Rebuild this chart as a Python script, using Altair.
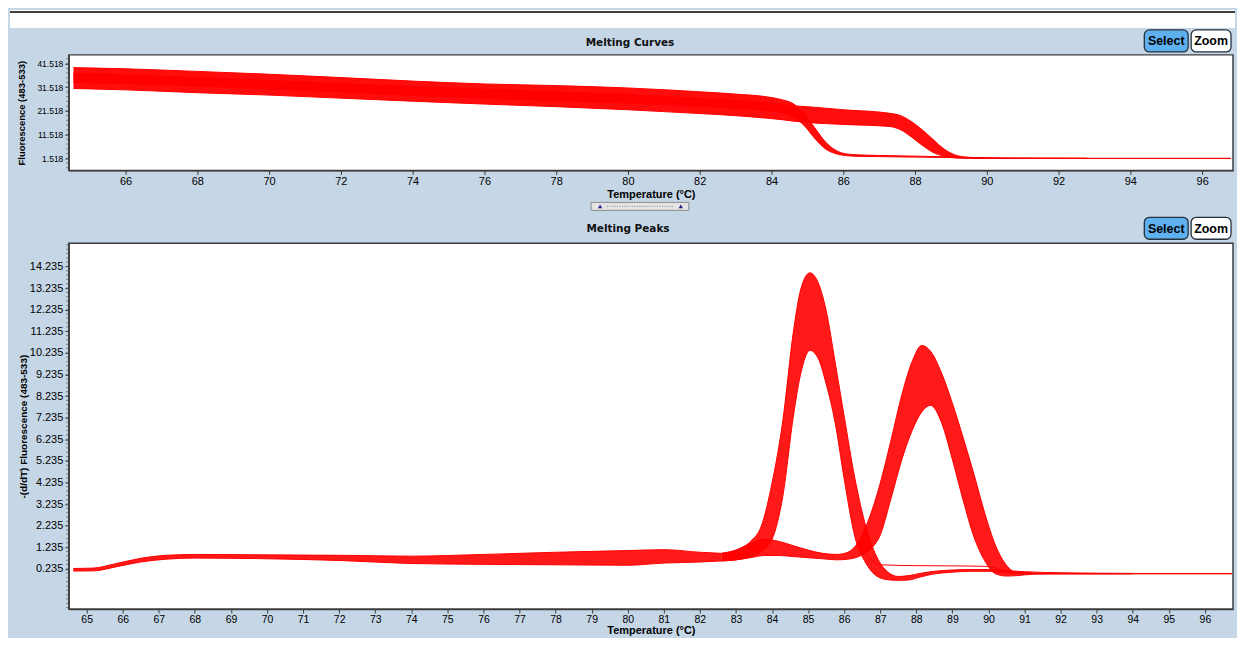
import altair as alt
import pandas as pd
import numpy as np

# ---------------- Melting Curves (top panel) : envelopes of two sample groups ----------------
curve_a_t  = [64.55, 66, 68, 70, 72, 74, 76, 78, 80, 82, 83, 83.9, 84.3, 84.6, 84.9, 85.2, 85.5, 85.8, 86.1, 86.5, 87, 88, 89, 90, 91, 92.8]
curve_a_hi = [39.8, 39.3, 38.2, 37.0, 35.6, 34.1, 32.9, 32.2, 31.2, 29.6, 28.6, 27.4, 26.2, 24.6, 20.5, 14.5, 8.5, 4.8, 3.3, 2.9, 2.7, 2.4, 2.1, 1.7, 1.6, 1.55]
curve_a_lo = [33.5, 33.0, 32.0, 30.8, 29.5, 28.0, 26.8, 25.8, 24.8, 23.4, 22.6, 21.6, 20.8, 19.0, 15.5, 10.0, 5.5, 3.4, 2.6, 2.3, 2.2, 2.0, 1.8, 1.5, 1.45, 1.4]

curve_b_t  = [64.55, 66, 68, 70, 72, 74, 76, 78, 80, 82, 83, 83.9, 84.3, 84.6, 85.0, 86.0, 87.3, 87.6, 87.9, 88.2, 88.5, 88.8, 89.1, 89.4, 89.8, 90.5, 92, 94, 96.8]
curve_b_hi = [37.5, 36.8, 35.6, 34.4, 33.1, 31.8, 30.7, 29.6, 28.4, 26.8, 26.0, 25.0, 24.3, 23.7, 23.3, 22.0, 20.5, 19.5, 17.0, 13.5, 9.5, 5.5, 3.0, 2.0, 1.65, 1.55, 1.5, 1.5, 1.5]
curve_b_lo = [31.0, 30.4, 29.2, 28.2, 26.9, 25.6, 24.4, 23.3, 22.0, 20.4, 19.5, 18.4, 17.8, 17.2, 16.6, 15.8, 14.9, 13.5, 10.5, 7.0, 4.0, 2.4, 1.7, 1.5, 1.45, 1.4, 1.4, 1.4, 1.4]

# ---------------- Melting Peaks (bottom panel) ----------------
peak_base_t  = [64.63, 65.2, 65.8, 66.5, 67.2, 68, 70, 72, 74, 76, 78, 80, 81, 82, 82.6]
peak_base_hi = [0.25, 0.27, 0.47, 0.72, 0.86, 0.9, 0.88, 0.86, 0.82, 0.9, 1.0, 1.08, 1.12, 1.0, 0.95]
peak_base_lo = [0.13, 0.14, 0.32, 0.55, 0.68, 0.73, 0.7, 0.62, 0.48, 0.44, 0.42, 0.4, 0.5, 0.55, 0.6]

peak_a_t  = [82.6, 83.0, 83.4, 83.7, 84.0, 84.3, 84.6, 84.8, 85.05, 85.3, 85.5, 85.75, 86.0, 86.3, 86.6, 86.9, 87.2, 87.5, 87.8, 88.1, 88.5, 89.0, 89.5, 90.0, 90.5, 91.0, 92.0, 94.0]
peak_a_hi = [0.95, 1.1, 1.5, 2.2, 4.2, 7.1, 11.3, 13.2, 13.94, 13.4, 12.2, 9.8, 7.3, 4.4, 2.2, 0.8, 0.1, -0.12, -0.08, 0.02, 0.12, 0.18, 0.2, 0.2, 0.15, 0.1, 0.05, 0.02]
peak_a_lo = [0.6, 0.65, 0.8, 1.05, 1.6, 3.6, 7.4, 9.3, 10.35, 9.9, 8.8, 7.0, 4.4, 1.7, 0.5, -0.1, -0.27, -0.3, -0.28, -0.15, 0.0, 0.08, 0.12, 0.12, 0.05, 0.02, 0.0, 0.0]

peak_b_t  = [82.6, 83.0, 83.4, 83.8, 84.2, 84.6, 85.0, 85.4, 85.8, 86.1, 86.4, 86.7, 87.0, 87.3, 87.6, 87.9, 88.15, 88.4, 88.7, 89.0, 89.3, 89.6, 89.9, 90.2, 90.5, 90.8, 91.2, 92.0, 94.0, 96.75]
peak_b_hi = [0.95, 1.1, 1.4, 1.6, 1.5, 1.3, 1.1, 0.95, 0.9, 1.0, 1.5, 2.6, 4.2, 6.2, 8.3, 9.9, 10.58, 10.3, 9.3, 7.9, 6.3, 4.6, 2.8, 1.3, 0.4, 0.05, 0.02, 0.02, 0.02, 0.02]
peak_b_lo = [0.6, 0.65, 0.75, 0.85, 0.85, 0.8, 0.75, 0.7, 0.65, 0.68, 0.8, 1.1, 1.8, 3.5, 5.3, 6.7, 7.5, 7.8, 7.0, 5.3, 3.4, 1.7, 0.6, 0.0, -0.1, -0.08, -0.02, 0.0, 0.0, 0.0]

peak_flat_t = [86.6, 87.0, 88.0, 89.0, 89.9, 90.5]
peak_flat_v = [0.9, 0.42, 0.38, 0.37, 0.35, 0.1]

# ---------------- axis ticks ----------------
top_x_ticks = list(range(66, 97, 2))
top_y_ticks = [1.518, 11.518, 21.518, 31.518, 41.518]
bot_x_ticks = list(range(65, 97))
bot_y_ticks = [0.235, 1.235, 2.235, 3.235, 4.235, 5.235, 6.235, 7.235, 8.235, 9.235,
               10.235, 11.235, 12.235, 13.235, 14.235]
top_y_minor = [round(v, 3) for v in np.arange(-2.482, 45.0, 2.0)]
bot_y_minor = [round(v, 3) for v in np.arange(-1.565, 15.3, 0.2)]

RED = "#ff0000"
BG = "#c5d6e7"
W = 1168
H1 = 116
H2 = 367
RX = 1170          # right edge of the whole picture, relative to plot left
FONT = "Liberation Sans"


def band_df(groups):
    rows = []
    for name, t, hi, lo in groups:
        for a, b, c in zip(t, hi, lo):
            rows.append({"g": name, "T": a, "hi": b, "lo": c})
    return pd.DataFrame(rows)


def edge_df(groups):
    rows = []
    for name, t, hi, lo in groups:
        for a, b, c in zip(t, hi, lo):
            rows.append({"s": name + "_hi", "T": a, "v": b})
            rows.append({"s": name + "_lo", "T": a, "v": c})
    return pd.DataFrame(rows)


top_groups = [("A", curve_a_t, curve_a_hi, curve_a_lo), ("B", curve_b_t, curve_b_hi, curve_b_lo)]
bot_groups = [("base", peak_base_t, peak_base_hi, peak_base_lo),
              ("A", peak_a_t, peak_a_hi, peak_a_lo),
              ("B", peak_b_t, peak_b_hi, peak_b_lo)]

top_band = band_df(top_groups)
top_edges = edge_df(top_groups)
bot_band = band_df(bot_groups)
bot_edges = edge_df(bot_groups)
flat_df = pd.DataFrame({"T": peak_flat_t, "v": peak_flat_v})

one = pd.DataFrame({"k": [0]})


def rect(x, x2, y, y2, **kw):
    return alt.Chart(one).mark_rect(**kw).encode(
        x=alt.value(x), x2=alt.value(x2), y=alt.value(y), y2=alt.value(y2))


def text(x, y, s, **kw):
    return alt.Chart(one).mark_text(text=s, **kw).encode(x=alt.value(x), y=alt.value(y))


def buttons(y0, y1):
    yc = (y0 + y1) / 2 + 0.5
    return [
        rect(1079, 1123, y0, y1, fill="#5fb0ee", stroke="#26313d", strokeWidth=1.3, cornerRadius=5),
        rect(1126, 1166, y0, y1, fill="white", stroke="#26313d", strokeWidth=1.3, cornerRadius=5),
        text(1101, yc, "Select", font=FONT, fontSize=12.5, fontWeight="bold", color="black", baseline="middle"),
        text(1146, yc, "Zoom", font=FONT, fontSize=12.5, fontWeight="bold", color="black", baseline="middle"),
    ]


# ---------------- shared scales / axes ----------------
xs_top = alt.Scale(domain=[64.42, 96.86], nice=False, zero=False)
ys_top = alt.Scale(domain=[-3.66, 45.18], nice=False, zero=False)
xa_top = alt.Axis(values=top_x_ticks, format="d", title="Temperature (°C)", labelOverlap=False,
                  labelFontSize=11, labelPadding=1, titlePadding=2, titleFontSize=11)
ya_top = alt.Axis(values=top_y_ticks, format=".3f", title="Fluorescence (483-533)", labelOverlap=False,
                  labelFontSize=8.5, titlePadding=10, titleFontSize=9.5)

xs_bot = alt.Scale(domain=[64.505, 96.78], nice=False, zero=False)
ys_bot = alt.Scale(domain=[-1.63, 15.31], nice=False, zero=False)
xa_bot = alt.Axis(values=bot_x_ticks, format="d", title="Temperature (°C)", labelOverlap=False,
                  labelFontSize=10.5, labelPadding=1, titlePadding=0, titleFontSize=11)
ya_bot = alt.Axis(values=bot_y_ticks, format=".3f", title="-(d/dT) Fluorescence (483-533)",
                  labelOverlap=False, labelFontSize=11, titlePadding=1, titleFontSize=10)

# ---------------- top chart ----------------
top_area = alt.Chart(top_band).mark_area(color=RED, opacity=0.95, clip=True, interpolate="monotone").encode(
    x=alt.X("T:Q", scale=xs_top, axis=xa_top),
    y=alt.Y("hi:Q", scale=ys_top, axis=ya_top),
    y2="lo:Q",
    detail="g:N",
)
top_lines = alt.Chart(top_edges).mark_line(color=RED, strokeWidth=1, clip=True, interpolate="monotone").encode(
    x=alt.X("T:Q", scale=xs_top, axis=xa_top), y=alt.Y("v:Q", scale=ys_top, axis=ya_top), detail="s:N")
top_minor = alt.Chart(pd.DataFrame({"m": top_y_minor})).mark_rule(color="#555555", strokeWidth=0.8).encode(
    x=alt.value(-2.5), x2=alt.value(0), y=alt.Y("m:Q", scale=ys_top, axis=ya_top))

top_layers = [
    rect(-59, RX, -45, -27, fill="white"),
    alt.Chart(one).mark_rule(color="black", strokeWidth=1.5).encode(
        x=alt.value(-59), x2=alt.value(RX), y=alt.value(-43)),
    top_area, top_lines, top_minor,
    text(563, -12, "Melting Curves", font="DejaVu Sans", fontSize=10.5, fontWeight="bold",
         color="#111111", baseline="middle"),
    # range slider between the panels
    rect(524, 622, 148, 156, fill="#e4e4e4", stroke="#8c8c8c", strokeWidth=1),
    alt.Chart(one).mark_rule(color="#8a8a8a", strokeDash=[1, 1.5]).encode(
        x=alt.value(540), x2=alt.value(607), y=alt.value(152)),
    alt.Chart(one).mark_point(shape="triangle-up", filled=True, size=18, color="#1f1f8a", opacity=1).encode(
        x=alt.value(533), y=alt.value(152)),
    alt.Chart(one).mark_point(shape="triangle-up", filled=True, size=18, color="#1f1f8a", opacity=1).encode(
        x=alt.value(614), y=alt.value(152)),
] + buttons(-25, -3)

top = alt.layer(*top_layers).properties(width=W, height=H1)

# ---------------- bottom chart ----------------
bot_area = alt.Chart(bot_band).mark_area(color=RED, opacity=0.9, clip=True, interpolate="monotone").encode(
    x=alt.X("T:Q", scale=xs_bot, axis=xa_bot),
    y=alt.Y("hi:Q", scale=ys_bot, axis=ya_bot),
    y2="lo:Q",
    detail="g:N",
)
bot_lines = alt.Chart(bot_edges).mark_line(color=RED, strokeWidth=1, clip=True, interpolate="monotone").encode(
    x=alt.X("T:Q", scale=xs_bot, axis=xa_bot), y=alt.Y("v:Q", scale=ys_bot, axis=ya_bot), detail="s:N")
bot_flat = alt.Chart(flat_df).mark_line(color=RED, strokeWidth=1, clip=True, interpolate="monotone").encode(
    x=alt.X("T:Q", scale=xs_bot, axis=xa_bot), y=alt.Y("v:Q", scale=ys_bot, axis=ya_bot))
bot_minor = alt.Chart(pd.DataFrame({"m": bot_y_minor})).mark_rule(color="#555555", strokeWidth=0.8).encode(
    x=alt.value(-2.5), x2=alt.value(0), y=alt.Y("m:Q", scale=ys_bot, axis=ya_bot))

bot_layers = [
    rect(-59, -58, 393, 394, fill=BG),
    rect(RX - 1, RX, 393, 394, fill=BG),
    bot_area, bot_lines, bot_flat, bot_minor,
    text(561, -14, "Melting Peaks", font="DejaVu Sans", fontSize=10.5, fontWeight="bold",
         color="#111111", baseline="middle"),
] + buttons(-26, -4)

bottom = alt.layer(*bot_layers).properties(width=W, height=H2)

chart = alt.vconcat(top, bottom, spacing=3).properties(
    padding={"left": 0, "top": 0, "right": 0, "bottom": 0}, background=BG
).configure_view(
    fill="white", stroke="#3c3c3c", strokeWidth=1.5
).configure_axis(
    labelFont=FONT, labelColor="black", titleFont=FONT, titleColor="black", titleFontWeight="bold",
    tickColor="#3c3c3c", domainColor="#3c3c3c", domainWidth=1.2, tickSize=4, grid=False,
    labelOverlap=False,
)

chart.save("out.html", embed_options={"renderer": "svg", "actions": False})
